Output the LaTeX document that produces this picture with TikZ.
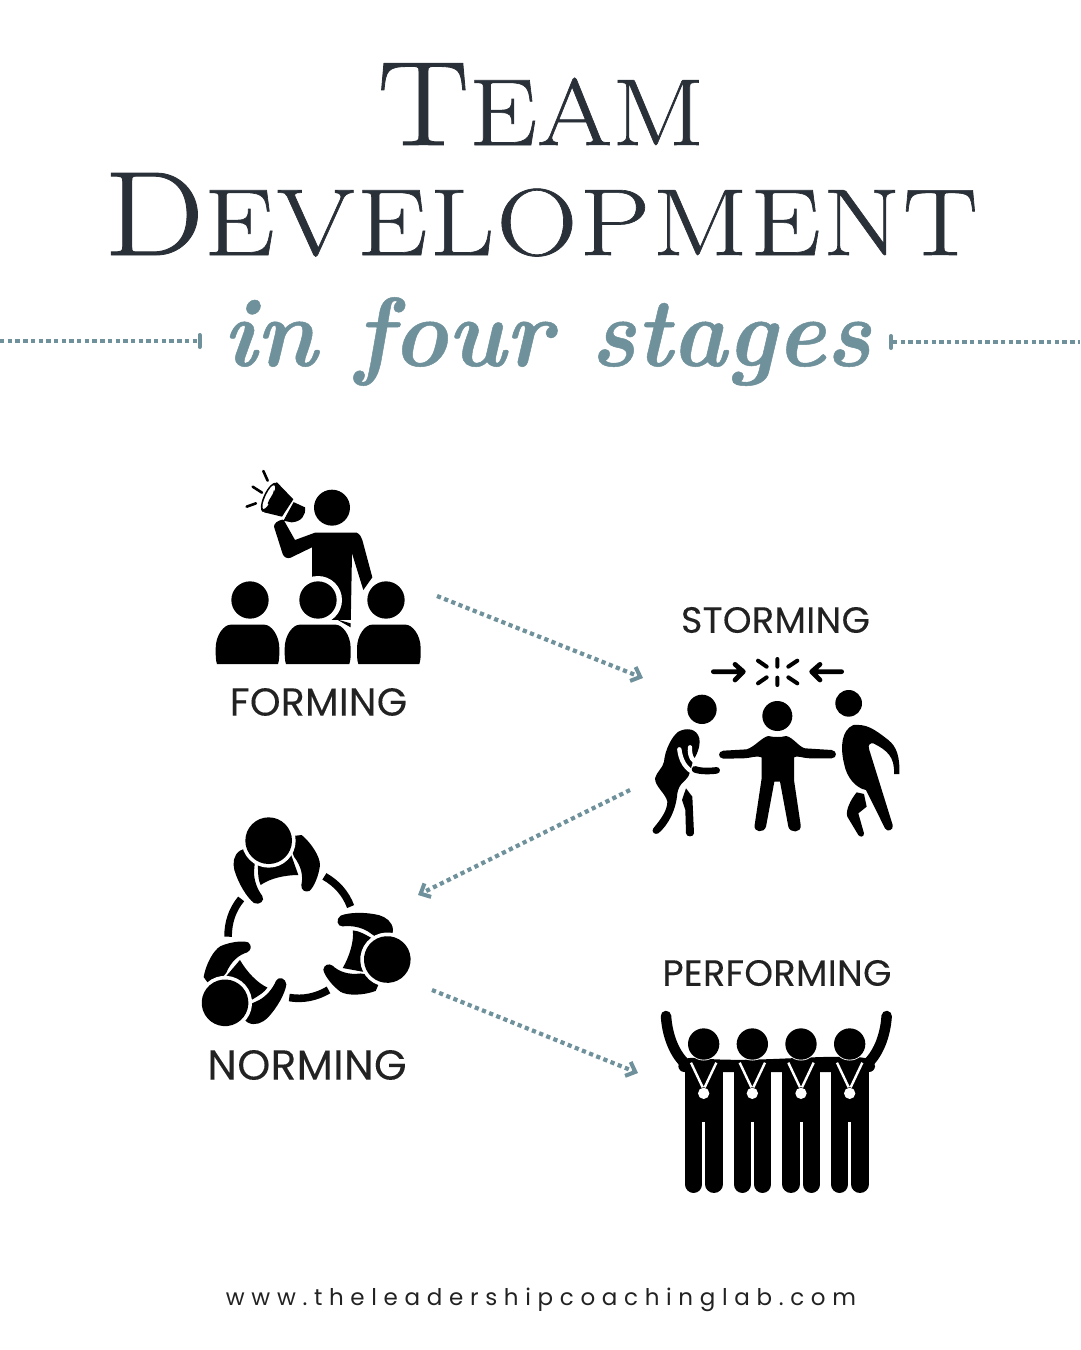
\documentclass[tikz,border=0pt]{standalone}
\usepackage{fontspec}
\setmainfont{Latin Modern Roman}
\newfontfamily\lblfont[FakeBold=0.15,LetterSpace=1]{Poppins}
\newfontfamily\urlfont[LetterSpace=29]{Poppins}
\newfontfamily\handfont[FakeStretch=0.95,FakeBold=0.5]{Latin Modern Roman}
\newfontfamily\titleafont[FakeStretch=1.14,FakeBold=0.7]{Latin Modern Roman}
\newfontfamily\titlebfont[FakeStretch=1.18,LetterSpace=2.5,FakeBold=0.7]{Latin Modern Roman}
\usetikzlibrary{arrows.meta}
\definecolor{inkc}{HTML}{2A3038}
\definecolor{tealc}{HTML}{6F919B}
\definecolor{lblc}{HTML}{222222}
\tikzset{
  titlecap/.style={text=inkc,inner sep=0pt,anchor=base},
  lbl/.style={text=lblc,inner sep=0pt},
  dotline/.style={draw=tealc,line width=4.4pt,dash pattern=on 4.4pt off 3.3pt},
  flow/.style={draw=tealc,line width=4.2pt,dash pattern=on 4.2pt off 3.5pt,-{Straight Barb[length=8pt,width=15pt,line width=4pt]}},
  bar/.style={draw=tealc,line width=4pt,line cap=round},
  ink/.style={fill=black,draw=none},
  rod/.style={draw=black,line cap=round,line join=round}
}
\newcommand{\sizedcaps}[2]{{\fontsize{#1}{#1}\selectfont #2}}
\newcommand{\lblsize}[1]{\lblfont\fontsize{#1}{#1}\selectfont}
\newcommand{\audbody}[2]{\fill[ink] (#1+4,612) -- (#2-4,612) .. controls (#2,600) and (#2,590) .. (#2,565) .. controls (#2,525) and (#2-25,494) .. (#2-45,494) -- (#1+45,494) .. controls (#1+25,494) and (#1,525) .. (#1,565) .. controls (#1,590) and (#1,600) .. (#1+4,612) -- cycle;}
\begin{document}
\begin{tikzpicture}[x=1pt,y=-1pt]
\useasboundingbox[fill=white] (0,0) rectangle (1080,1350);
% title
\node[titlecap] (t1) at (541,145) {\titleafont\sizedcaps{120}{T}\sizedcaps{95}{EAM}};
\node[titlecap] (t2) at (541,255) {\titlebfont\sizedcaps{120}{D}\sizedcaps{95}{EVELOPMENT}};
\node[inner sep=0pt,anchor=base,text=tealc] (t3) at (547,366) {\handfont\bfseries\itshape\fontsize{98}{98}\selectfont in four stages};
% rules
\coordinate (la) at (0,341); \coordinate (lb) at (197,341);
\coordinate (ra) at (893,342); \coordinate (rb) at (1080,342);
\draw[dotline] (la) -- (lb);
\draw[dotline] (ra) -- (rb);
\draw[bar] (199.5,335) -- (199.5,347);
\draw[bar] (891,336) -- (891,348);
% labels
\node[lbl,font=\lblsize{39}] (lf) at (318.5,702) {FORMING};
\node[lbl,font=\lblsize{36.5}] (ls) at (775.5,620) {STORMING};
\node[lbl,font=\lblsize{42}] (ln) at (307,1065) {NORMING};
\node[lbl,font=\lblsize{36.5}] (lp) at (777,973) {PERFORMING};
\node[inner sep=0pt,text=lblc] (url) at (541,1300) {\urlfont\fontsize{23}{24}\selectfont www.theleadershipcoachinglab.com};
% connectors
\coordinate (a1) at (437,596); \coordinate (a2) at (643,678);
\coordinate (b1) at (630,790); \coordinate (b2) at (418,895);
\coordinate (c1) at (432,990); \coordinate (c2) at (638,1073);
\draw[flow] (a1) -- (a2);
\draw[flow] (b1) -- (b2);
\draw[flow] (c1) -- (c2);
% FORMING icon
\begin{scope}[shift={(200,460)},x=1pt/3,y=-1pt/3]
  \fill[ink] (470,218) .. controls (480,222) and (484,232) .. (487,240) -- (517,352) -- (490,390) -- (456,280) -- (452,502) -- (336,502) -- (336,262) -- (272,293) .. controls (262,297) and (252,292) .. (248,282) -- (222,200) .. controls (222,190) and (232,182) .. (250,178) -- (285,240) -- (345,218) -- cycle;
  \fill[ink] (250,182) -- (278,125) -- (315,142) .. controls (318,165) and (305,185) .. (275,187) -- cycle;
  \draw[white,line width=2.2pt] (283,115) -- (248,178);
  \fill[ink] (230,66) -- (280,118) -- (246,170) -- (192,157) -- cycle;
  \fill[ink,rotate around={-25:(208,112)}] (208,112) ellipse (17 and 48);
  \fill[white,rotate around={-25:(208,112)}] (206,112) ellipse (10 and 39);
  \fill[ink] (203,130) .. controls (208,115) and (220,105) .. (222,90) -- (235,120) -- (225,150) -- cycle;
  \draw[rod,line width=2.6pt] (190,33) -- (203,62) (158,80) -- (186,98) (140,140) -- (168,130);
  \fill[white] (354,420) circle (72);
  \fill[white] (558,420) circle (68);
  \fill[white] (240,480) rectangle (470,620);
  \fill[ink] (410,478) -- (452,490) -- (452,502) -- cycle;
  \fill[ink] (150,420) circle (56) (354,420) circle (56) (558,420) circle (56);
  \fill[ink] (396,143) circle (54);
  \audbody{47}{238}
  \audbody{254}{452}
  \audbody{471}{662}
\end{scope}
% STORMING icon
\begin{scope}[shift={(640,650)},x=1pt/3,y=-1pt/3]
  \draw[rod,line width=4.7pt] (220,65) -- (308,65) (285,43) -- (310,65) -- (285,90);
  \draw[rod,line width=4.7pt] (605,65) -- (517,65) (540,43) -- (515,65) -- (540,90);
  \draw[rod,line width=4pt] (412,27) -- (412,50) (412,83) -- (412,105) (354,32) -- (380,50) (472,32) -- (445,50) (354,100) -- (380,82) (472,100) -- (445,82);
  \fill[ink] (186,178) circle (44) (412,198) circle (45) (626,160) circle (40);
  % middle
  \fill[ink] (385,258) .. controls (400,262) and (425,262) .. (438,258) .. controls (460,262) and (475,290) .. (495,295) -- (575,300) .. controls (592,302) and (592,324) .. (575,325) -- (510,325) .. controls (490,325) and (470,315) .. (462,322) -- (462,390) -- (482,525) .. controls (485,550) and (450,550) .. (445,530) -- (420,395) -- (403,395) -- (378,530) .. controls (372,550) and (340,548) .. (344,525) -- (365,385) -- (365,322) .. controls (350,315) and (330,325) .. (310,325) -- (250,326) .. controls (233,324) and (233,304) .. (250,302) -- (320,298) .. controls (345,290) and (365,262) .. (385,258) -- cycle;
  % left
  \fill[ink] (115,245) .. controls (140,232) and (170,235) .. (178,265) .. controls (182,290) and (170,315) .. (160,330) -- (148,372) .. controls (140,395) and (118,395) .. (112,430) .. controls (108,480) and (85,525) .. (55,550) .. controls (45,556) and (32,545) .. (40,535) .. controls (65,505) and (82,480) .. (82,455) .. controls (77,430) and (45,410) .. (45,385) .. controls (50,365) and (68,355) .. (72,335) .. controls (75,300) and (95,260) .. (115,245) -- cycle;
  \draw[white,line width=4.4pt,line cap=round] (118,298) .. controls (122,330) and (135,358) .. (170,372);
  \draw[white,line width=4.4pt,line cap=round] (150,292) .. controls (148,320) and (158,335) .. (180,345);
  \draw[rod,line width=6.6pt] (165,358) .. controls (180,364) and (210,364) .. (230,361);
  \fill[ink] (138,415) -- (157,440) -- (162,550) .. controls (160,562) and (140,562) .. (138,550) -- (136,480) -- (126,450) -- cycle;
  % right
  \fill[ink] (640,225) .. controls (680,222) and (700,235) .. (745,270) .. controls (770,290) and (780,320) .. (778,372) -- (762,372) .. controls (765,320) and (740,300) .. (700,280) .. controls (690,278) and (682,285) .. (688,300) -- (758,525) .. controls (762,540) and (742,548) .. (735,535) -- (678,420) .. controls (650,415) and (620,385) .. (612,340) .. controls (600,290) and (605,240) .. (640,225) -- cycle;
  \fill[ink] (650,427) -- (672,432) -- (680,470) -- (655,490) -- (672,550) .. controls (672,562) and (660,562) .. (655,555) -- (622,500) .. controls (615,480) and (635,445) .. (650,427) -- cycle;
\end{scope}
% NORMING icon
\begin{scope}[shift={(190,810)},x=1pt/3,y=-1pt/3]
  \foreach \ang in {0,120,240}{
  \begin{scope}[rotate around={\ang:(311,373)}]
    \fill[ink] (200,100) -- (150,122) .. controls (130,135) and (128,160) .. (133,180) .. controls (145,220) and (170,262) .. (192,279) .. controls (208,287) and (226,272) .. (217,258) .. controls (200,235) and (192,210) .. (192,185) -- (195,150) -- cycle;
    \fill[ink] (290,80) -- (335,75) .. controls (365,100) and (390,140) .. (390,165) .. controls (387,195) and (372,232) .. (358,243) .. controls (345,248) and (333,240) .. (334,225) .. controls (340,200) and (335,170) .. (312,140) -- cycle;
    \fill[ink] (204,140) -- (300,125) -- (325,195) .. controls (285,195) and (240,205) .. (212,225) .. controls (205,210) and (203,195) .. (204,140) -- cycle;
    \fill[white] (236,92) circle (81);
    \fill[ink] (236,92) circle (70);
    \draw[black,line width=7.6pt] (403.2,199.1) .. controls (440,220) and (467,250) .. (481.8,289.7);
  \end{scope}}
\end{scope}
% PERFORMING icon
\begin{scope}[shift={(650,1000)},x=1pt/3,y=-1pt/3]
  \draw[rod,line width=10.5pt] (48,48) .. controls (52,110) and (75,165) .. (110,195);
  \draw[rod,line width=10.5pt] (710,48) .. controls (706,110) and (683,165) .. (648,195);
  \fill[ink,rounded corners=6pt] (85,182) -- (120,172) .. controls (300,190) and (480,165) .. (640,172) -- (675,182) -- (675,216) -- (85,216) -- cycle;
  \foreach \xc in {161,307,453,599}{
    \fill[ink] (\xc-56,190) rectangle (\xc+57,366);
    \draw[rod,line width=17.3pt] (\xc-30,300) -- (\xc-30,553);
    \draw[rod,line width=17.3pt] (\xc+31,300) -- (\xc+31,553);
    \draw[white,line width=2.4pt] (\xc-38,188) -- (\xc-3,262) (\xc+38,188) -- (\xc+3,262);
    \fill[white] (\xc,280) circle (17);
    \fill[white] (\xc,132) circle (49.5);
    \fill[ink] (\xc,132) circle (47);
  }
\end{scope}
\end{tikzpicture}
\end{document}
